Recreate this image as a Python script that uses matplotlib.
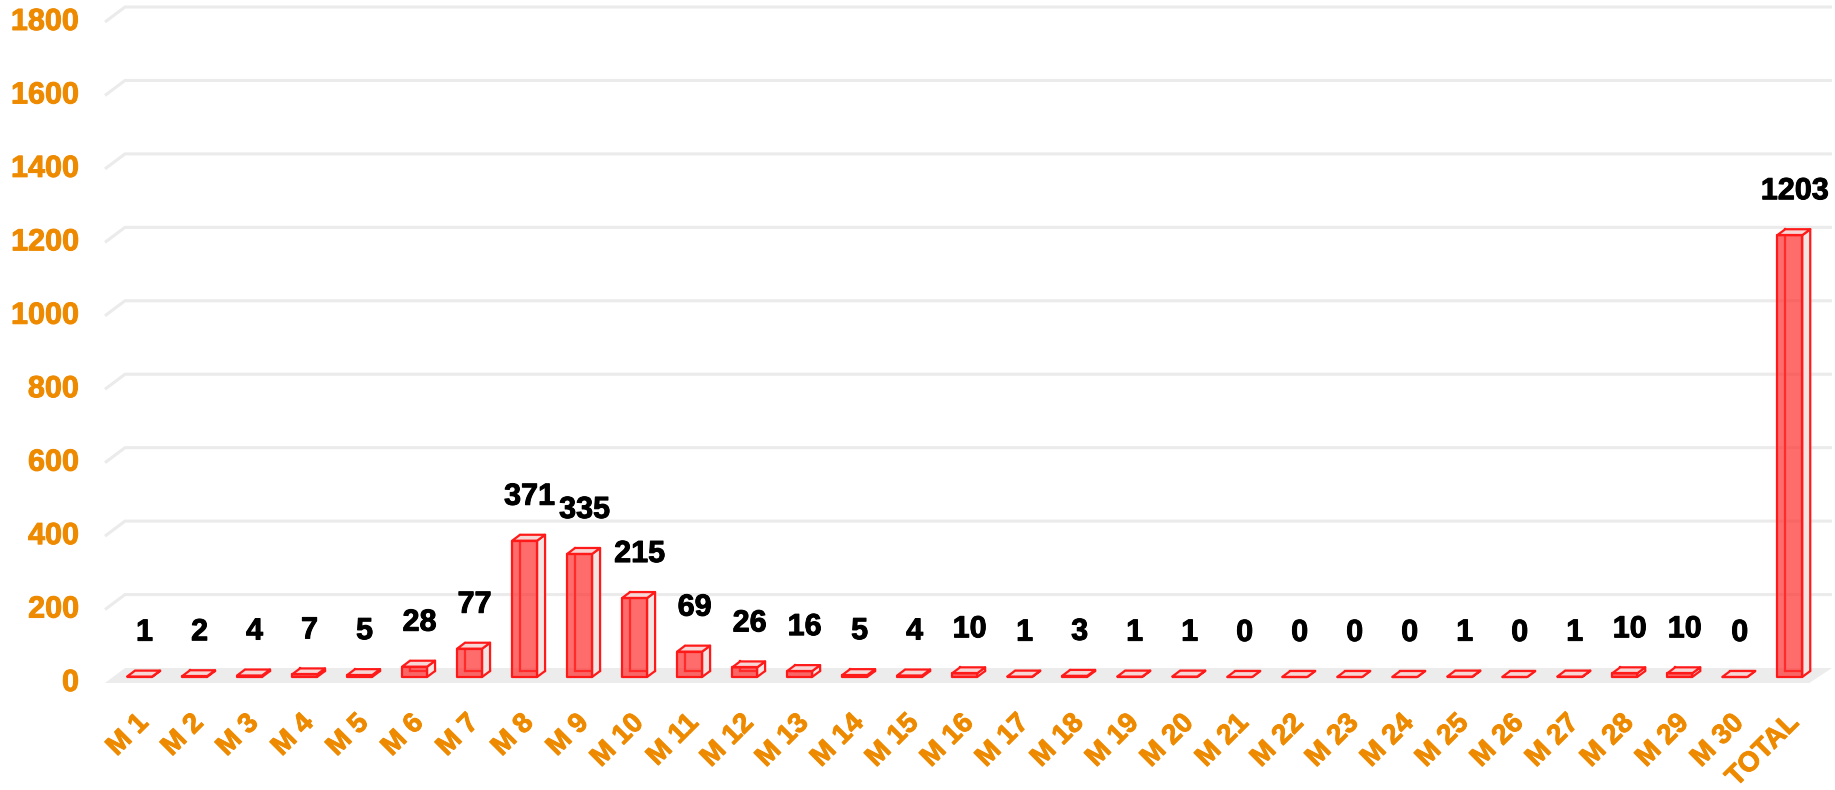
import matplotlib
matplotlib.use("Agg")
import matplotlib.pyplot as plt
import matplotlib.patheffects as pe
from matplotlib.patches import Polygon
from matplotlib.transforms import ScaledTranslation

categories = ["M 1", "M 2", "M 3", "M 4", "M 5", "M 6", "M 7", "M 8", "M 9", "M 10",
              "M 11", "M 12", "M 13", "M 14", "M 15", "M 16", "M 17", "M 18", "M 19", "M 20",
              "M 21", "M 22", "M 23", "M 24", "M 25", "M 26", "M 27", "M 28", "M 29", "M 30",
              "TOTAL"]
values = [1, 2, 4, 7, 5, 28, 77, 371, 335, 215,
          69, 26, 16, 5, 4, 10, 1, 3, 1, 1,
          0, 0, 0, 0, 1, 0, 1, 10, 10, 0,
          1203]
y_ticks = [0, 200, 400, 600, 800, 1000, 1200, 1400, 1600, 1800]

ORANGE = "#ee8a00"
RED = "#ff1a1a"
FONT = "Liberation Sans"

W, H, DPI = 1835, 790, 100
fig = plt.figure(figsize=(W / DPI, H / DPI), dpi=DPI)
ax_l, ax_r, ax_t, ax_b = 125, 1832, 7, 668
ax = fig.add_axes([ax_l / W, (H - ax_b) / H, (ax_r - ax_l) / W, (ax_b - ax_t) / H])
xlim = (-0.482, 30.55)
ylim = (0, 1800)
ax.set_xlim(*xlim)
ax.set_ylim(*ylim)
ax.axis("off")

PXX = (ax_r - ax_l) / (xlim[1] - xlim[0])   # px per x unit
UY = (ylim[1] - ylim[0]) / (ax_b - ax_t)     # y units per px
DEPTH_X, DEPTH_Y = 20, 15                    # px offset of front vs back plane


def P(x, y, d):
    """project (x, y, depth) -> data coords; depth 0 = back, 1 = front"""
    return (x - d * DEPTH_X / PXX, y - d * DEPTH_Y * UY)


def heavy(color):
    return [pe.withStroke(linewidth=0.7, foreground=color)]


# floor
x0, x1 = xlim
floor = Polygon([P(x0, 0, 0), P(x1, 0, 0), P(x1 - 0.05, 0, 1), P(x0, 0, 1)],
                closed=True, facecolor="#ececec", edgecolor="none", zorder=1, clip_on=False)
ax.add_patch(floor)

# gridlines
for v in y_ticks:
    if v == 0:
        continue
    xs = [P(x0, v, 1)[0], P(x0, v, 0)[0], x1]
    ys = [P(x0, v, 1)[1], P(x0, v, 0)[1], v]
    ax.plot(xs, ys, color="#ebebeb", lw=2.2, zorder=0.5, clip_on=False,
            solid_capstyle="butt")

# y tick labels
for v in y_ticks:
    tr = ax.transData + ScaledTranslation(-(DEPTH_X + 26) / DPI, -DEPTH_Y / DPI, fig.dpi_scale_trans)
    ax.text(x0, v, str(v), transform=tr, ha="right", va="center", fontsize=22,
            fontweight="bold", color=ORANGE, family=FONT, clip_on=False,
            path_effects=heavy(ORANGE))

# bars
BW = 25 / PXX
DF, DB = 0.6, 0.2
LW = 1.6
for i, (c, v) in enumerate(zip(categories, values)):
    xl, xr = i - BW / 2, i + BW / 2
    # back edges (visible through the transparent front)
    bl0, bl1 = P(xl, 0, DB), P(xl, v, DB)
    br0 = P(xr, 0, DB)
    ax.plot([bl0[0], bl1[0]], [bl0[1], bl1[1]], color=RED, lw=LW, zorder=3, clip_on=False)
    ax.plot([bl0[0], br0[0]], [bl0[1], br0[1]], color=RED, lw=LW, zorder=3, clip_on=False)
    # right side face
    side = Polygon([P(xr, 0, DF), P(xr, v, DF), P(xr, v, DB), P(xr, 0, DB)], closed=True,
                   facecolor="#f3e4e4", edgecolor=RED, lw=LW, zorder=4, joinstyle="round",
                   clip_on=False)
    ax.add_patch(side)
    # top face
    top = Polygon([P(xl, v, DF), P(xr, v, DF), P(xr, v, DB), P(xl, v, DB)], closed=True,
                  facecolor="#f7d6d6", edgecolor=RED, lw=LW, zorder=4, joinstyle="round",
                  clip_on=False)
    ax.add_patch(top)
    # front face
    front = Polygon([P(xl, 0, DF), P(xr, 0, DF), P(xr, v, DF), P(xl, v, DF)], closed=True,
                    facecolor=(1.0, 0.2, 0.2, 0.72), edgecolor=RED, lw=LW, zorder=5,
                    joinstyle="round", clip_on=False)
    ax.add_patch(front)
    # value label
    tr = ax.transData + ScaledTranslation(-3 / DPI, 30 / DPI, fig.dpi_scale_trans)
    lx, ly = P(i, v, DB)
    ax.text(lx, ly, str(v), transform=tr, ha="center", va="baseline", fontsize=22,
            fontweight="bold", color="black", family=FONT, zorder=6,
            path_effects=heavy("black"))
    # category label
    fx, fy = P(i, 0, 1)
    tr2 = ax.transData + ScaledTranslation(13 / DPI, -36 / DPI, fig.dpi_scale_trans)
    ax.text(fx, fy, c, transform=tr2, ha="right", va="center", rotation=45,
            rotation_mode="anchor", fontsize=20, fontweight="bold", color=ORANGE,
            family=FONT, clip_on=False, path_effects=heavy(ORANGE))

fig.savefig("out.png", dpi=DPI, facecolor="white")
